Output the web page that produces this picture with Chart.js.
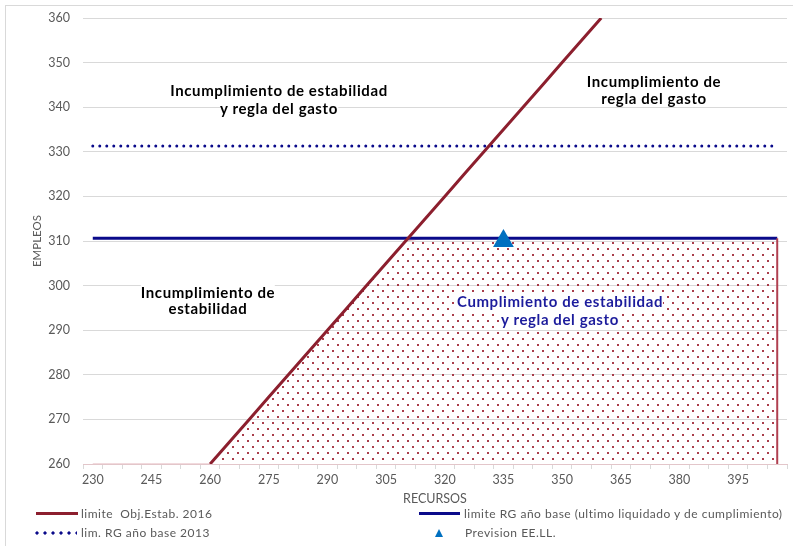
<!DOCTYPE html>
<html>
<head>
<meta charset="utf-8">
<script src="https://cdn.jsdelivr.net/npm/chart.js@4/dist/chart.umd.min.js"></script>
<style>
  html, body { margin: 0; padding: 0; background: #fff; }
  #wrap { position: relative; width: 793px; height: 546px; overflow: hidden; font-family: Lato, "Liberation Sans", sans-serif; }
  #frame { position: absolute; left: 5px; top: 5px; width: 820px; height: 580px; border: 1px solid #d9d9d9; }
  canvas { position: absolute; left: 0; top: 0; }
  .note { position: absolute; text-align: center; font-weight: bold; font-size: 15px; letter-spacing: 0.6px; line-height: 18px; color: #000; white-space: nowrap; transform: translateX(-50%); }
  .note span { background: #fff; }
  .leg { position: absolute; font-size: 12px; letter-spacing: 0.5px; color: #595959; white-space: nowrap; line-height: 14px; }
  .sw { position: absolute; }
</style>
</head>
<body>
<div id="wrap">
  <div id="frame"></div>
  <canvas id="grafico" width="793" height="546"></canvas>

  <div class="note" style="left:279px; top:81px;"><span>Incumplimiento de estabilidad</span><br><span>y regla del gasto</span></div>
  <div class="note" style="left:654px; top:73px; line-height:17px;"><span>Incumplimiento de</span><br><span>regla del gasto</span></div>
  <div class="note" style="left:208px; top:284px; line-height:16px;"><span>Incumplimiento de</span><br><span>estabilidad</span></div>
  <div class="note" style="left:560px; top:292px; color:#1c1c9c;"><span>Cumplimiento de estabilidad</span><br><span>y regla del gasto</span></div>

  <div class="sw" style="left:36px; top:512px; width:42px; height:3px; background:#8c1f2e;"></div>
  <div class="leg" style="left:81px; top:507px;">limite&nbsp; Obj.Estab. 2016</div>
  <div class="sw" style="left:419px; top:512px; width:41px; height:3px; background:#0a0a8a;"></div>
  <div class="leg" style="left:464px; top:507px;">limite RG año base (ultimo liquidado y de cumplimiento)</div>
  <div class="sw" style="left:35px; top:531px; width:42px; height:4px; background: radial-gradient(circle at 2px 2px, #0a0a8a 1.4px, transparent 1.8px) 0 0 / 8px 4px repeat-x;"></div>
  <div class="leg" style="left:81px; top:526px;">lim. RG año base 2013</div>
  <div class="sw" style="left:435px; top:529px; width:0; height:0; border-left:4px solid transparent; border-right:4px solid transparent; border-bottom:8px solid #0070c0;"></div>
  <div class="leg" style="left:465px; top:526px;">Prevision EE.LL.</div>
</div>

<script>
// categorias del eje X (RECURSOS)
const recursos = [230, 235, 240, 245, 250, 255, 260, 265, 270, 275, 280, 285, 290, 295, 300, 305, 310, 315,
  320, 325, 330, 335, 340, 345, 350, 355, 360, 365, 370, 375, 380, 385, 390, 395, 400, 405];
const etiquetasX = ['230', '245', '260', '275', '290', '305', '320', '335', '350', '365', '380', '395'];

// limite Obj.Estab. 2016
const limiteEstab = [null, null, null, null, null, null, 260, 265, 270, 275, 280, 285, 290, 295, 300, 305, 310, 315,
  320, 325, 330, 335, 340, 345, 350, 355, 360, null, null, null, null, null, null, null, null, null];
// limite RG año base (ultimo liquidado y de cumplimiento)
const limiteRG = [310.6, 310.6, 310.6, 310.6, 310.6, 310.6, 310.6, 310.6, 310.6, 310.6, 310.6, 310.6, 310.6, 310.6, 310.6, 310.6, 310.6, 310.6,
  310.6, 310.6, 310.6, 310.6, 310.6, 310.6, 310.6, 310.6, 310.6, 310.6, 310.6, 310.6, 310.6, 310.6, 310.6, 310.6, 310.6, 310.6];
// lim. RG año base 2013
const limRG2013 = [331.3, 331.3, 331.3, 331.3, 331.3, 331.3, 331.3, 331.3, 331.3, 331.3, 331.3, 331.3, 331.3, 331.3, 331.3, 331.3, 331.3, 331.3,
  331.3, 331.3, 331.3, 331.3, 331.3, 331.3, 331.3, 331.3, 331.3, 331.3, 331.3, 331.3, 331.3, 331.3, 331.3, 331.3, 331.3, 331.3];
// Prevision EE.LL.
const prevision = [null, null, null, null, null, null, null, null, null, null, null, null, null, null, null, null, null, null,
  null, null, null, 310, null, null, null, null, null, null, null, null, null, null, null, null, null, null];
// zona de cumplimiento (area punteada)
const zonaCumple = [260, 260, 260, 260, 260, 260, 260, 265, 270, 275, 280, 285, 290, 295, 300, 305, 310, 310.6,
  310.6, 310.6, 310.6, 310.6, 310.6, 310.6, 310.6, 310.6, 310.6, 310.6, 310.6, 310.6, 310.6, 310.6, 310.6, 310.6, 310.6, 310.6];

// trama de puntos
const tile = document.createElement('canvas');
tile.width = 10; tile.height = 12;
const tc = tile.getContext('2d');
tc.fillStyle = 'rgba(160,40,55,0.9)';
tc.fillRect(2, 2, 2, 2);
tc.fillRect(7, 8, 2, 2);
const trama = tc.createPattern(tile, 'repeat');

// borde derecho del area
const bordeArea = {
  id: 'bordeArea',
  afterDatasetsDraw(chart) {
    const x = chart.scales.x, y = chart.scales.y;
    const i = zonaCumple.length - 1;
    const px = x.getPixelForValue(i);
    const ctx = chart.ctx;
    ctx.save();
    ctx.strokeStyle = '#b04050';
    ctx.lineWidth = 2;
    ctx.beginPath();
    ctx.moveTo(px, y.getPixelForValue(260));
    ctx.lineTo(px, y.getPixelForValue(zonaCumple[i]));
    ctx.stroke();
    ctx.restore();
  }
};

const gris = '#595959';

new Chart(document.getElementById('grafico').getContext('2d'), {
  type: 'line',
  data: {
    labels: recursos,
    datasets: [
      {
        label: 'limite  Obj.Estab. 2016',
        data: limiteEstab,
        borderColor: '#8c1f2e',
        borderWidth: 3,
        pointRadius: 0,
        order: 2
      },
      {
        label: 'limite RG año base (ultimo liquidado y de cumplimiento)',
        data: limiteRG,
        borderColor: '#0a0a8a',
        borderWidth: 3,
        pointRadius: 0,
        order: 3
      },
      {
        label: 'lim. RG año base 2013',
        data: limRG2013,
        borderColor: '#0a0a8a',
        borderWidth: 3,
        borderDash: [0, 7],
        borderCapStyle: 'round',
        pointRadius: 0,
        order: 3
      },
      {
        label: 'Prevision EE.LL.',
        data: prevision,
        showLine: false,
        pointStyle: 'triangle',
        // solo el punto con valor lleva marcador (evita margen extra en el layout)
        pointRadius: ctx => (ctx.raw == null ? 0 : 12),
        pointHoverRadius: 0,
        pointBackgroundColor: '#0070c0',
        pointBorderColor: '#0070c0',
        pointBorderWidth: 0,
        order: 1
      },
      {
        label: 'zona',
        data: zonaCumple,
        borderColor: 'rgba(190,90,105,0.45)',
        borderWidth: 1,
        backgroundColor: trama,
        fill: 'start',
        pointRadius: 0,
        order: 10
      }
    ]
  },
  options: {
    responsive: false,
    animation: false,
    layout: { padding: { top: 18, right: 6, left: 0, bottom: 41 } },
    plugins: { legend: { display: false }, tooltip: { enabled: false } },
    scales: {
      x: {
        type: 'category',
        offset: true,
        grid: { offset: true, drawOnChartArea: false, drawTicks: true, tickLength: 5, color: '#d9d9d9' },
        border: { display: true, color: '#e3c6ca', width: 1 },
        ticks: {
          autoSkip: false,
          maxRotation: 0,
          padding: 3,
          color: gris,
          font: { family: 'Lato', size: 12.5 },
          callback: function (v) {
            const l = String(this.getLabelForValue(v));
            return etiquetasX.includes(l) ? l : '';
          }
        },
        title: { display: true, text: 'RECURSOS', color: gris, font: { family: 'Lato', size: 12.5 }, padding: { top: 0, bottom: -1 } },
        afterFit(s) { s.height = 41; }
      },
      y: {
        min: 260,
        max: 360,
        ticks: { stepSize: 10, padding: 0, color: gris, font: { family: 'Lato', size: 12.5 } },
        grid: { color: '#d9d9d9', drawTicks: true, tickLength: 13, tickColor: 'rgba(0,0,0,0)' },
        border: { display: false },
        title: { display: true, text: 'EMPLEOS', color: gris, font: { family: 'Lato', size: 11.5 }, padding: { top: 30, bottom: 0 } },
        afterFit(s) { s.width = 83; }
      }
    }
  },
  plugins: [bordeArea]
});
</script>
</body>
</html>
